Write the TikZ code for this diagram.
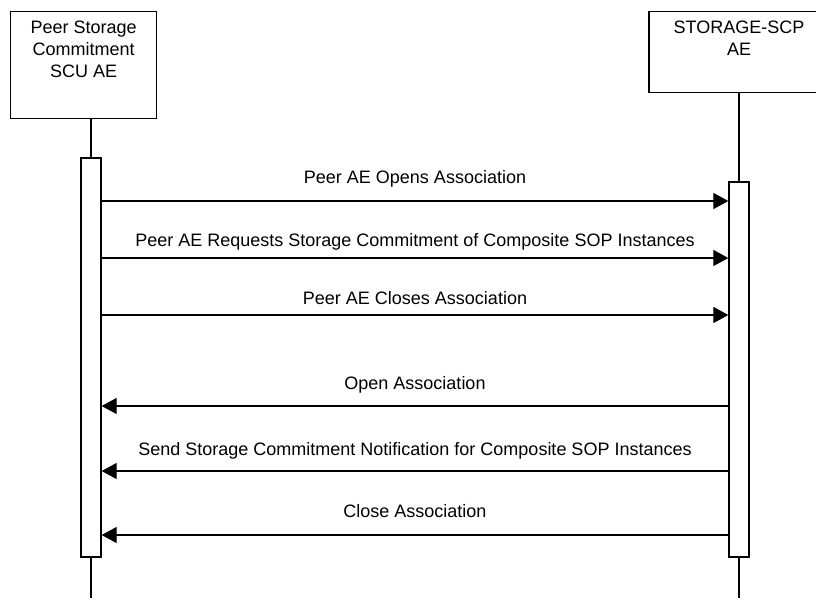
\documentclass[tikz,border=0pt]{standalone}
\usepackage{fontspec}
\setmainfont{Liberation Sans}
\usepackage{tikz}
\usetikzlibrary{positioning}
\usetikzlibrary{arrows.meta}
\tikzset{
  mymessage/.style={
    draw=black,
    line width=1.2pt,
    -{Triangle[length=15pt,width=16pt]},
  },
  myhead/.style={
    draw=black,
    shape=rectangle,
    line width=1.3pt,
    anchor=north,
    align=center,
    inner xsep=4pt,
    inner ysep=0pt,
    font=\fontsize{18}{22}\selectfont
  },
  myactivation/.style={
    draw=black,
    fill=white,
    shape=rectangle,
    line width=1.3pt,
    inner sep=0pt,
    minimum width=20pt,
  },
  mylifeline/.style={
    draw=black,
    line width=1.2pt,
  },
  mylabel/.style={
    anchor=base,
    inner sep=0pt,
    font=\fontsize{18}{22}\selectfont
  }
}

\begin{document}
\begin{tikzpicture}[x=1pt, y=1pt]
    \useasboundingbox (0,0) rectangle (816,-598);

    \node[myhead, minimum width=146pt, text height=66.3pt, text depth=40.7pt] (scu) at (83.7,-10.7) {Peer Storage\\Commitment\\SCU AE};
    \node[myhead, minimum width=180pt, text height=44.3pt, text depth=37pt]   (scp) at (739,-10.7)  {STORAGE-SCP\\AE};

    \coordinate (scuend) at (91,-598);
    \coordinate (scpend) at (739,-598);

    \draw[mylifeline] (scu.south -| scuend) -- (scuend);
    \draw[mylifeline] (scp.south) -- (scpend);

    \node[myactivation, minimum height=399pt] (scuact) at (91,-357.5) {};
    \node[myactivation, minimum height=375pt] (scpact) at (739,-369.5) {};

    \draw[mymessage] (scuact.east |- 0,-201) -- node[mylabel, yshift=18pt] {Peer AE Opens Association} (scpact.west |- 0,-201);
    \draw[mymessage] (scuact.east |- 0,-258) -- node[mylabel, yshift=12pt] {Peer AE Requests Storage Commitment of Composite SOP Instances} (scpact.west |- 0,-258);
    \draw[mymessage] (scuact.east |- 0,-315) -- node[mylabel, yshift=11pt] {Peer AE Closes Association} (scpact.west |- 0,-315);

    \draw[mymessage] (scpact.west |- 0,-406) -- node[mylabel, yshift=17pt] {Open Association} (scuact.east |- 0,-406);
    \draw[mymessage] (scpact.west |- 0,-471) -- node[mylabel, yshift=16pt] {Send Storage Commitment Notification for Composite SOP Instances} (scuact.east |- 0,-471);
    \draw[mymessage] (scpact.west |- 0,-535) -- node[mylabel, yshift=18pt] {Close Association} (scuact.east |- 0,-535);
\end{tikzpicture}
\end{document}
